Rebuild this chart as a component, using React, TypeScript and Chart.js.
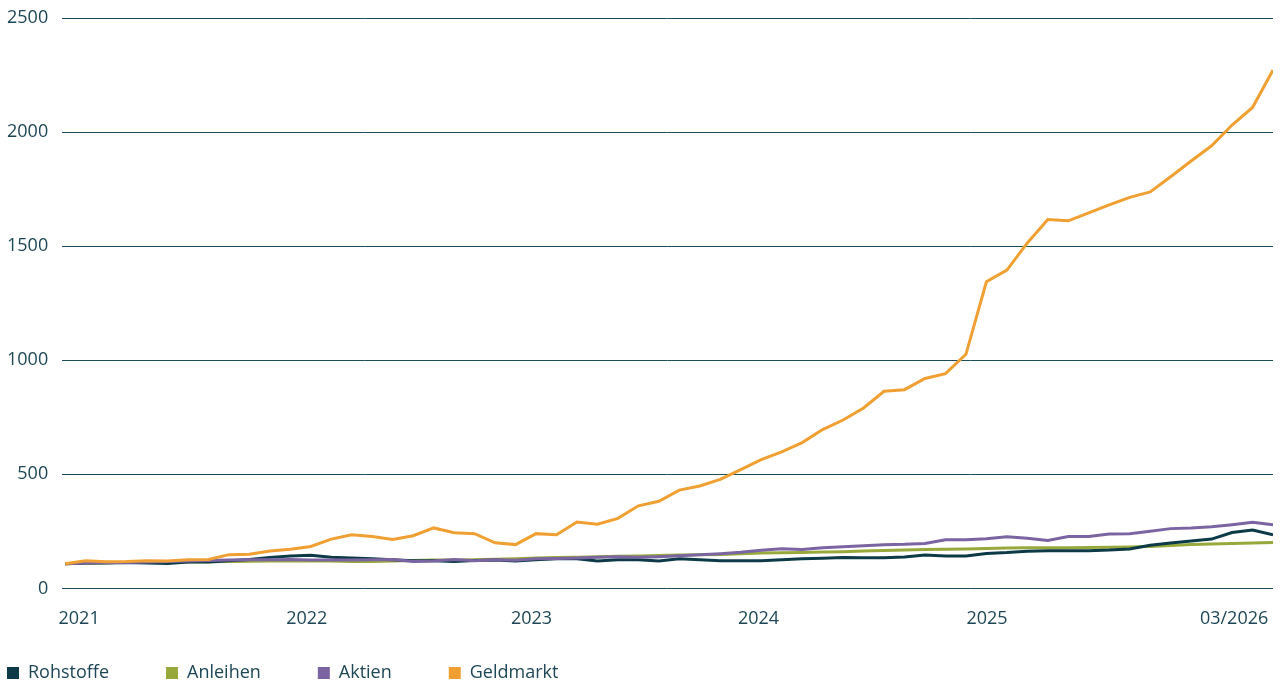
import { useEffect, useRef } from 'react';
import { Chart, registerables } from 'chart.js';

Chart.register(...registerables);

// ---- data -------------------------------------------------------------
const pointIndex = Array.from({ length: 60 }, (_, i) => i);
const xTickLabels = ['2021', '2022', '2023', '2024', '2025', '03/2026'];
const xTickAt = [0.68, 11.8, 22.78, 33.87, 45.03, 57.1];
const yTicks = [0, 500, 1000, 1500, 2000, 2500];
const seriesNames = ['Rohstoffe', 'Anleihen', 'Aktien', 'Geldmarkt'];

const rohstoffe = [
  108, 111, 111, 114, 111, 109, 116, 116, 121, 127,
  136, 142, 145, 137, 133, 130, 126, 121, 121, 118,
  122, 124, 120, 126, 130, 130, 120, 126, 126, 120,
  130, 126, 121, 121, 121, 126, 130, 132, 135, 134,
  134, 138, 146, 142, 142, 153, 157, 163, 165, 165,
  165, 168, 173, 189, 199, 208, 216, 245, 256, 235,
];
const anleihen = [
  108, 110, 112, 113, 114, 115, 116, 117, 118, 119,
  120, 120, 120, 120, 118, 118, 120, 122, 124, 125,
  126, 128, 130, 133, 135, 137, 139, 141, 142, 144,
  146, 147, 149, 152, 155, 156, 157, 159, 161, 164,
  166, 168, 170, 172, 173, 175, 177, 178, 178, 178,
  179, 180, 182, 184, 188, 192, 195, 197, 199, 201,
];
const aktien = [
  108, 111, 113, 114, 116, 118, 120, 122, 125, 126,
  126, 127, 125, 125, 124, 126, 127, 118, 120, 127,
  121, 126, 123, 130, 131, 133, 136, 139, 136, 139,
  143, 147, 152, 158, 167, 174, 171, 178, 183, 187,
  191, 193, 197, 213, 213, 218, 226, 220, 210, 227,
  228, 238, 240, 250, 262, 265, 270, 279, 290, 279,
];
const geldmarkt = [
  108, 121, 117, 118, 121, 120, 126, 127, 148, 150,
  164, 172, 184, 216, 235, 227, 214, 231, 265, 244,
  240, 200, 192, 240, 235, 291, 281, 307, 362, 382,
  431, 449, 478, 521, 564, 598, 639, 696, 738, 791,
  864, 871, 920, 941, 1026, 1344, 1395, 1514, 1617, 1611,
  1646, 1681, 1714, 1738, 1804, 1873, 1940, 2031, 2108, 2272,
];

// ---- styles -----------------------------------------------------------
const seriesColors = ['#0c3b47', '#98a93b', '#7b64a2', '#f0a032'];
const seriesOrder = [2, 3, 1, 0];
const textColor = '#1d4756';
const gridColor = '#1b4d5e';
const fontSpec = { family: "'Open Sans', sans-serif", size: 18 };

const legendPlacement = {
  id: 'legendPlacement',
  afterInit(chart: any) {
    const leg = chart.legend;
    if (!leg) return;
    const fit = leg.fit.bind(leg);
    leg.fit = function () {
      fit();
      this.height = 53;
    };
  },
  afterLayout(chart: any) {
    const leg = chart.legend;
    if (!leg) return;
    const pad = leg.options.labels.padding;
    leg.left = 7 - pad;
    leg.top = 664 - pad;
  },
};

export default function App() {
  const ref = useRef<HTMLCanvasElement | null>(null);

  useEffect(() => {
    if (!ref.current) return;
    const values = [rohstoffe, anleihen, aktien, geldmarkt];
    const chart = new Chart(ref.current, {
      type: 'line',
      data: {
        labels: pointIndex,
        datasets: seriesNames.map((name, i) => ({
          label: name,
          data: values[i],
          borderColor: seriesColors[i],
          backgroundColor: seriesColors[i],
          borderWidth: 3,
          pointRadius: 0,
          tension: 0,
          fill: false,
          order: seriesOrder[i],
        })),
      },
      options: {
        animation: false,
        responsive: false,
        layout: { padding: { left: 7, right: 10, top: 18, bottom: 0 } },
        plugins: {
          legend: {
            position: 'bottom',
            align: 'start',
            labels: {
              boxWidth: 12,
              boxHeight: 12,
              padding: 57,
              color: textColor,
              font: fontSpec,
              sort: (a: any, b: any) => a.datasetIndex - b.datasetIndex,
              generateLabels: (c: any) =>
                (Chart.defaults.plugins.legend.labels as any)
                  .generateLabels(c)
                  .map((l: any) => ({ ...l, lineWidth: 0, strokeStyle: 'transparent' })),
            },
          },
          tooltip: { enabled: false },
        },
        scales: {
          x: {
            type: 'linear',
            min: -0.147,
            max: 59,
            grid: {
              display: true,
              drawOnChartArea: false,
              drawTicks: true,
              tickLength: 20,
              tickColor: 'transparent',
            },
            border: { display: false },
            afterBuildTicks: (axis: any) => {
              axis.ticks = xTickAt.map((v) => ({ value: v }));
            },
            ticks: {
              autoSkip: false,
              maxRotation: 0,
              padding: 0,
              color: textColor,
              font: fontSpec,
              callback: (_v: any, i: number) => xTickLabels[i],
            },
          },
          y: {
            min: 0,
            max: 2500,
            afterBuildTicks: (axis: any) => {
              axis.ticks = yTicks.map((v) => ({ value: v }));
            },
            grid: {
              color: gridColor,
              lineWidth: 1,
              drawTicks: true,
              tickLength: 14,
              tickColor: 'transparent',
            },
            border: { display: false },
            ticks: {
              padding: 0,
              color: textColor,
              font: fontSpec,
              callback: (v: any) => String(v),
            },
          },
        },
      },
      plugins: [legendPlacement],
    } as any);
    return () => chart.destroy();
  }, []);

  return (
    <div style={{ position: 'fixed', left: 0, top: 0, width: 1283, height: 683, background: '#fff' }}>
      <canvas ref={ref} width={1283} height={683} />
    </div>
  );
}
